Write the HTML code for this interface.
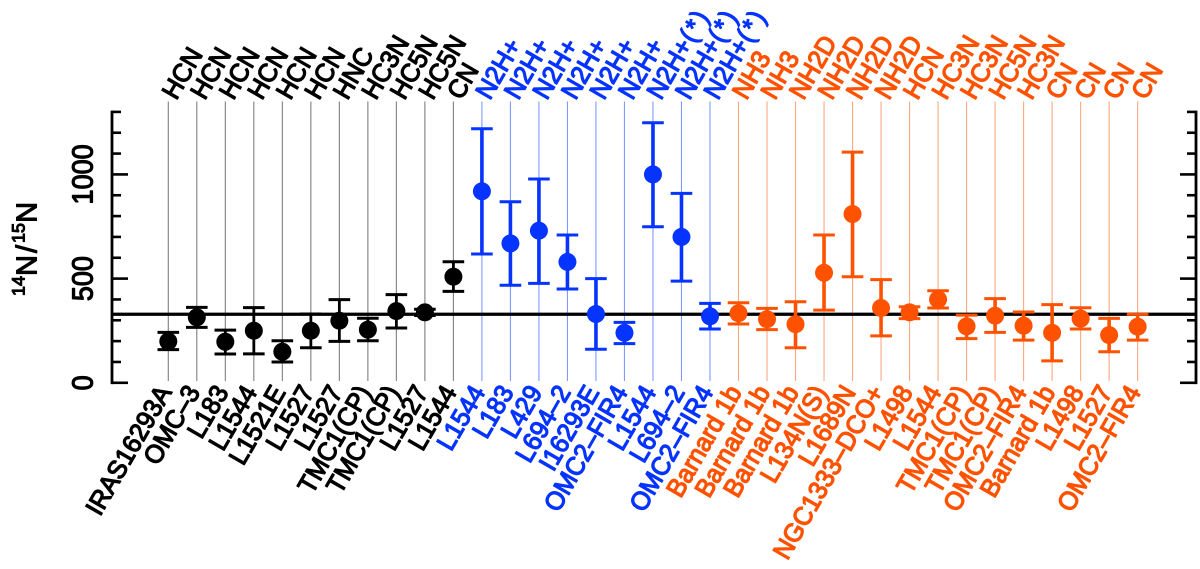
<!DOCTYPE html>
<html lang="en">
<head>
<meta charset="utf-8">
<title>14N/15N ratios</title>
<style>
  html, body { margin: 0; padding: 0; background: #fff; }
  svg { display: block; font-family: "Liberation Sans", sans-serif; }
  text { stroke-linejoin: round; stroke-linecap: round; text-rendering: geometricPrecision; }
</style>
</head>
<body>
<svg id="chart" xmlns="http://www.w3.org/2000/svg" width="1200" height="569" viewBox="0 0 1200 569">
  <rect width="1200" height="569" fill="#fff"/>
  <text transform="translate(36.5 296) rotate(-90)" font-size="29" fill="#000" stroke="#000" stroke-width="1.1"><tspan font-size="18" dy="-12">14</tspan><tspan dy="12">N</tspan><tspan dx="2">/</tspan><tspan font-size="18" dy="-12" dx="2">15</tspan><tspan dy="12">N</tspan></text>
</svg>
<script>
const sources = ["IRAS16293A","OMC–3","L183","L1544","L1521E","L1527","L1527","TMC1(CP)","TMC1(CP)","L1527","L1544",
  "L1544","L183","L429","L694–2","I16293E","OMC2–FIR4","L1544","L694–2","OMC2–FIR4",
  "Barnard 1b","Barnard 1b","Barnard 1b","L134N(S)","L1689N","NGC1333–DCO+","L1498","L1544","TMC1(CP)","TMC1(CP)","OMC2–FIR4","Barnard 1b","L1498","L1527","OMC2–FIR4"];
const molecules = ["HCN","HCN","HCN","HCN","HCN","HCN","HNC","HC3N","HC5N","HC5N","CN",
  "N2H+","N2H+","N2H+","N2H+","N2H+","N2H+","N2H+(*)","N2H+(*)","N2H+(*)",
  "NH3","NH3","NH2D","NH2D","NH2D","NH2D","HCN","HC3N","HC3N","HC5N","HC3N","CN","CN","CN","CN"];
const families = ["black","black","black","black","black","black","black","black","black","black","black",
  "blue","blue","blue","blue","blue","blue","blue","blue","blue",
  "orange","orange","orange","orange","orange","orange","orange","orange","orange","orange","orange","orange","orange","orange","orange"];
const values = [199,314,197,250,149,250,298,255,344,338,509,
  919,669,730,580,330,240,1000,700,319,
  334,305,281,528,810,359,338,400,271,322,274,240,308,229,269];
const errLow = [159,266,138,139,100,168,199,202,263,323,439,
  618,468,477,450,161,188,749,488,258,
  282,255,168,349,509,225,308,359,212,242,205,105,258,149,205];
const errHigh = [242,362,253,361,202,330,399,310,423,353,581,
  1219,869,978,709,500,290,1248,909,381,
  384,357,389,709,1107,495,365,442,325,404,340,375,360,309,329];
const yMajorTicks = [0,500,1000];
const yMinorTicks = [100,200,300,400,600,700,800,900,1100,1200,1300];
const referenceRatio = [329];
const yDomain = [0,1300];

const svg = document.getElementById('chart');
const NS = 'http://www.w3.org/2000/svg';
const plot = { left: 112, right: 1196, top: 111.9, bottom: 382.8, firstX: 168.3, stepX: 28.51, lineTop: 101.5, lineBottom: 381 };
const colors = { black: '#000000', blue: '#0533ff', orange: '#ff5200' };
const lineColors = { black: '#7f7f7f', blue: '#8099ff', orange: '#ffa880' };
const labelAngle = -60;
const labelScale = 'scale(1 1.04)';

function xScale(i) { return plot.firstX + i * plot.stepX; }
function yScale(v) { return plot.bottom - (v - yDomain[0]) / (yDomain[1] - yDomain[0]) * (plot.bottom - plot.top); }
function make(tag, props, parent) {
  const e = document.createElementNS(NS, tag);
  for (const k in props) e.setAttribute(k, props[k]);
  (parent || svg).appendChild(e);
  return e;
}
function line(x1, y1, x2, y2, stroke, width, parent) {
  return make('line', { x1: x1, y1: y1, x2: x2, y2: y2, stroke: stroke, 'stroke-width': width }, parent);
}
function kebab(s) { return s.toLowerCase().replace(/[^a-z0-9]+/g, '-').replace(/^-|-$/g, ''); }

/* vertical guide lines */
sources.forEach(function (s, i) {
  const g = line(xScale(i), plot.lineTop, xScale(i), plot.lineBottom, lineColors[families[i]], 1.1);
  
  
});

/* axes */
const leftSpine = line(plot.left, yScale(yDomain[1]) - 1.3, plot.left, yScale(yDomain[0]) + 1.3, '#000', 2.8);


const rightSpine = line(plot.right, yScale(yDomain[1]) - 1.3, plot.right, yScale(yDomain[0]) + 1.3, '#000', 2.8);



yMinorTicks.forEach(function (v) {
  const a = line(plot.left, yScale(v), plot.left + 9, yScale(v), '#000', 2.6);
  
  
  const b = line(plot.right, yScale(v), plot.right - 9, yScale(v), '#000', 2.6);
  
  
});
yMajorTicks.forEach(function (v) {
  const a = line(plot.left, yScale(v), plot.left + 16, yScale(v), '#000', 2.6);
  
  
  const b = line(plot.right, yScale(v), plot.right - 16, yScale(v), '#000', 2.6);
  
  
  const t = make('text', { transform: 'translate(92.5 ' + yScale(v) + ') rotate(-90) scale(1 1.08)', 'text-anchor': 'middle', 'font-size': 27, fill: '#000', stroke: '#000', 'stroke-width': 1.1 });
  t.textContent = String(v);
  
  
});

/* reference line */
const ref = line(plot.left, yScale(referenceRatio[0]), plot.right, yScale(referenceRatio[0]), '#000', 3.2);



/* error bars and points */
values.forEach(function (v, i) {
  const x = xScale(i), c = colors[families[i]], bar = families[i] === 'black' ? 2.8 : 3.6;
  const stem = line(x, yScale(errLow[i]), x, yScale(errHigh[i]), c, bar);
  
  
  const capLo = line(x - 10.8, yScale(errLow[i]), x + 10.8, yScale(errLow[i]), c, 3);
  
  
  const capHi = line(x - 10.8, yScale(errHigh[i]), x + 10.8, yScale(errHigh[i]), c, 3);
  
  
  const pt = make('circle', { cx: x, cy: yScale(v), r: 9, fill: c });
  
  
});

/* rotated labels */
sources.forEach(function (s, i) {
  const c = colors[families[i]];
  const bottom = make('text', { transform: 'translate(' + (xScale(i) + 4) + ' 392) rotate(' + labelAngle + ') ' + labelScale, 'text-anchor': 'end', 'font-size': 25, fill: c, stroke: c, 'stroke-width': 1.2 });
  bottom.textContent = s;
  
  
  const top = make('text', { transform: 'translate(' + (xScale(i) + 8) + ' 101) rotate(' + labelAngle + ') ' + labelScale, 'text-anchor': 'start', 'font-size': 25, fill: c, stroke: c, 'stroke-width': 1.2 });
  const cut = molecules[i].indexOf('(');
  if (cut < 0) {
    top.textContent = molecules[i];
  } else {
    const base = document.createElementNS(NS, 'tspan');
    base.textContent = molecules[i].slice(0, cut);
    top.appendChild(base);
    const note = document.createElementNS(NS, 'tspan');
    note.setAttribute('style', 'letter-spacing:2.5px');
    note.setAttribute('dx', '1');
    note.textContent = molecules[i].slice(cut);
    top.appendChild(note);
  }
  
  
});
</script>
</body>
</html>
